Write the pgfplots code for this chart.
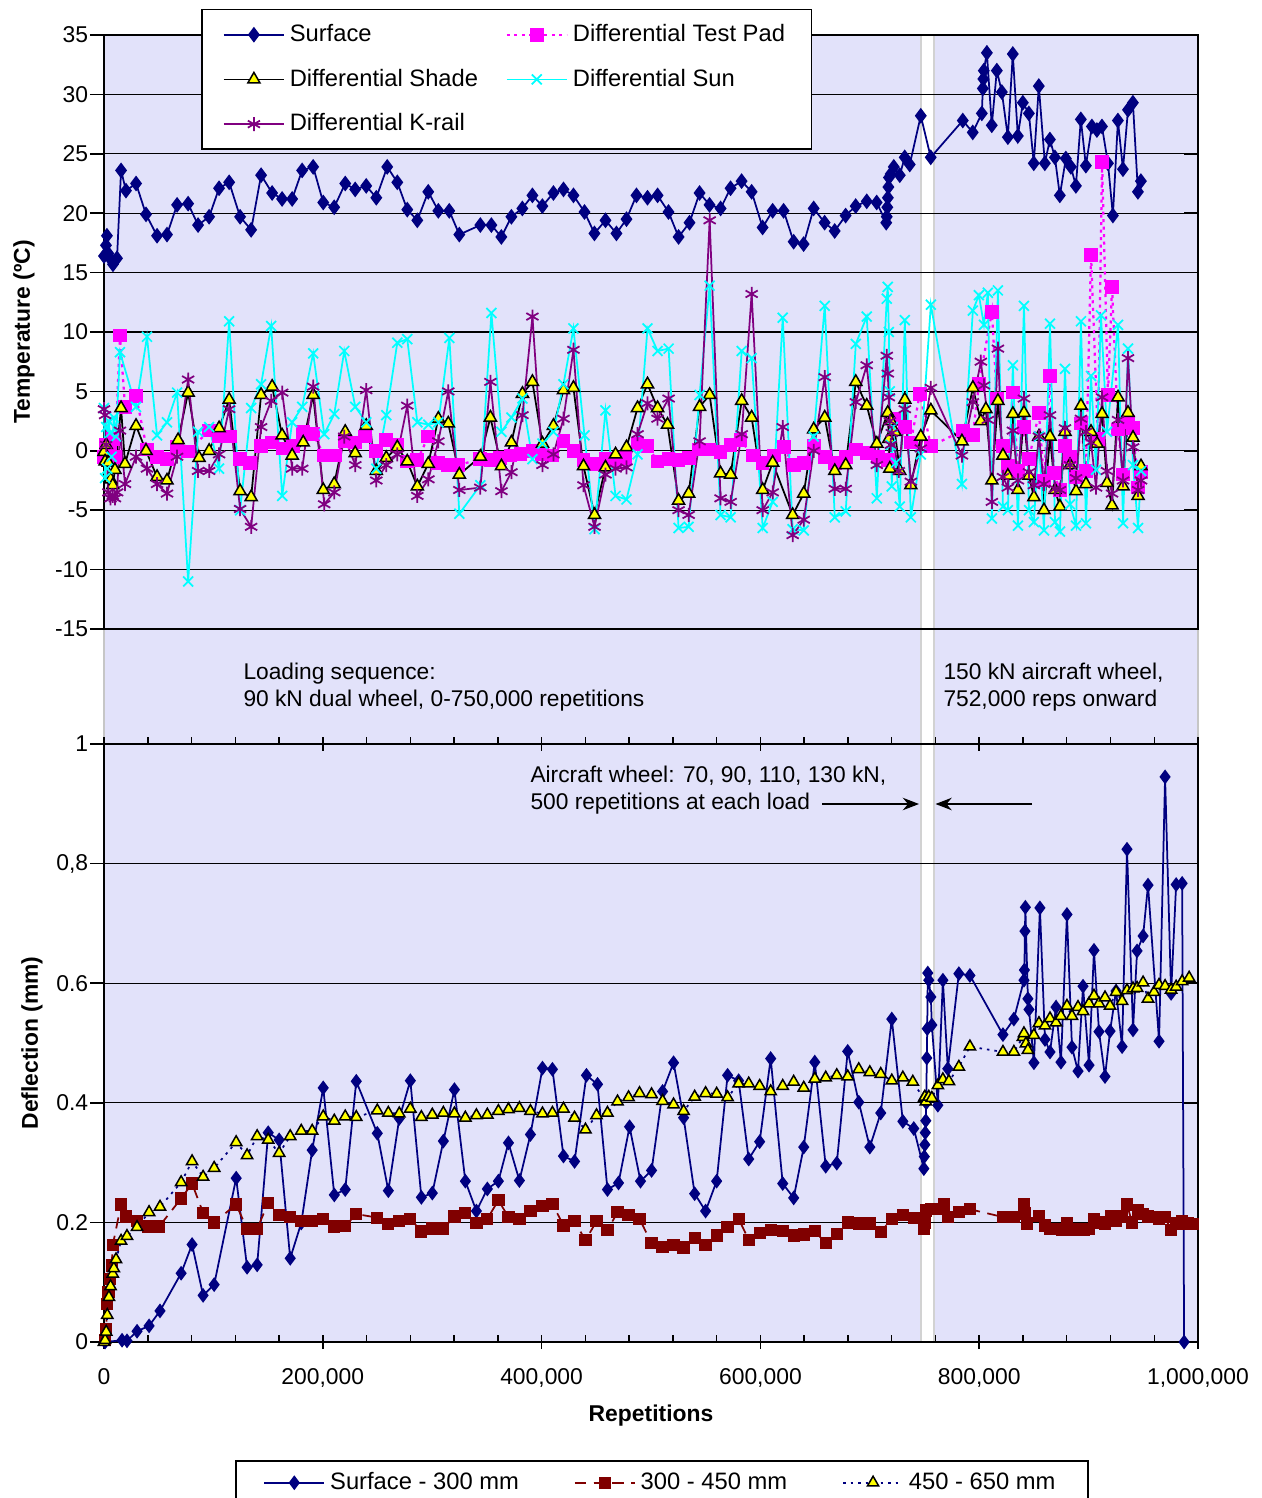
\documentclass[border=0pt]{standalone}
\usepackage{fontspec}
\setmainfont{Liberation Sans}
\usepackage{pgfplots}
\pgfplotsset{compat=1.18}
\usetikzlibrary{arrows.meta}

\definecolor{navyc}{RGB}{0,0,128}
\definecolor{magc}{RGB}{255,0,255}
\definecolor{cyanc}{RGB}{0,255,255}
\definecolor{purpc}{RGB}{128,0,128}
\definecolor{yelc}{RGB}{255,255,0}
\definecolor{redc}{RGB}{128,0,0}
\definecolor{lavc}{RGB}{226,226,250}

\newcommand{\fs}{\fontsize{9.5}{11.4}\selectfont}
\newcommand{\ft}{\fontsize{9.15}{11}\selectfont}

\pgfplotsset{
  myaxis/.style={
    scale only axis, width=437.6pt, anchor=north west,
    xmin=0, xmax=1000, clip=false,
    axis line style={line width=0.8pt},
    ymajorgrids, grid style={black, line width=0.5pt},
    tick style={black, line width=0.6pt},
    tick align=center,
    major tick length=5.6pt, minor tick length=2.8pt,
    every major y tick/.append style={xshift=-2.8pt},
    every minor x tick/.append style={yshift=1.4pt},
    tick label style={font=\ft},
    label style={font=\ft\bfseries},
    yticklabel style={anchor=east},
    legend cell align=left,
    legend style={font=\fs, draw=black, line width=0.6pt, fill=white},
    legend image code/.code={
      \draw[##1] (0pt,0pt) -- (24pt,0pt);
      \draw[##1, mark repeat=2, mark phase=2] plot coordinates {(0pt,0pt) (12pt,0pt) (24pt,0pt)};
    },
  },
}

\begin{document}
\begin{tikzpicture}
% shaded plot area behind both panels
\fill[lavc, draw=gray!45, line width=0.6pt] (41.6pt,-14pt) rectangle (479.2pt,-536.8pt);
\fill[white] (368.4pt,-14pt) rectangle (373.6pt,-536.8pt);
\draw[gray!35, line width=0.6pt] (368.4pt,-14pt) -- (368.4pt,-536.8pt) (373.6pt,-14pt) -- (373.6pt,-536.8pt);

\begin{axis}[myaxis, at={(41.6pt,-14pt)}, height=237.6pt,
  ymin=-15, ymax=35, ytick={-15,-10,-5,0,5,10,15,20,25,30,35},
  yticklabels={-15,-10,-5,0,5,10,15,20,25,30,35},
  xtick=\empty,
  ylabel={Temperature (ºC)},
  ylabel style={at={(axis description cs:-0.0731,0.5)}, anchor=center},
  legend columns=2,
  legend style={at={(0.0887,1.0438)}, anchor=north west, inner xsep=8.5pt, inner ysep=3.8pt, row sep=5.5pt,
    /tikz/every even column/.append style={column sep=9pt}},
]
\addplot[navyc, line width=0.7pt, mark=diamond*, mark size=2.6pt, mark options={fill=navyc}] coordinates {
(0,16.4)(1.8,17.3)(2.7,18.1)(4,16.6)(5.5,16.2)(8.2,15.7)(11.9,16.2)(15.6,23.6)(20.1,21.9)(29.3,22.5)(38.4,19.9)(48.5,18.1)(57.6,18.2)(66.8,20.7)(76.9,20.8)(86,19.0)(96.1,19.7)(105.2,22.1)(114.4,22.6)(124.4,19.7)(134.5,18.6)(143.6,23.2)(153.7,21.7)(162.8,21.2)(172,21.2)(181.1,23.6)(191.2,23.9)(200.4,20.9)(210.4,20.5)(220.5,22.5)(229.6,22.0)(239.7,22.3)(248.9,21.3)(258.9,23.9)(268.1,22.6)(277.2,20.3)(286.4,19.4)(296.4,21.8)(305.6,20.2)(315.6,20.2)(324.8,18.2)(344,19.0)(354.1,19.0)(363.2,18.0)(372.4,19.7)(382.4,20.4)(391.6,21.5)(400.7,20.6)(410.8,21.7)(420,22.0)(429.1,21.5)(439.2,20.1)(448.3,18.3)(458.4,19.4)(468.4,18.3)(477.6,19.5)(486.7,21.5)(496.8,21.3)(506,21.5)(516,20.1)(525.2,18.0)(535.2,19.2)(544.4,21.7)(553.5,20.7)(563.6,20.4)(572.7,22.1)(582.8,22.7)(592,21.8)(602,18.8)(611.2,20.2)(621.2,20.2)(630.4,17.6)(639.5,17.4)(648.7,20.4)(658.7,19.2)(667.9,18.5)(677.9,19.8)(687.1,20.6)(697.2,21.0)(706.3,20.9)(715,19.2)(715.5,19.7)(716,20.5)(716.5,21.3)(717,22.2)(717.5,23.0)(719.1,23.3)(721.9,23.9)(727.4,23.2)(731.9,24.7)(736.5,24.1)(746.6,28.2)(755.7,24.7)(785,27.8)(794.1,26.8)(802.4,28.4)(803.3,30.5)(803.8,31.3)(804.2,32.0)(807,33.5)(811.5,27.4)(816.1,32.0)(820.7,30.2)(826.2,26.4)(830.7,33.4)(835.3,26.5)(839.9,29.3)(845.4,28.4)(849.9,24.2)(854.5,30.7)(860,24.2)(864.6,26.2)(869.2,24.7)(873.7,21.5)(879.2,24.6)(883.8,23.9)(888.4,22.3)(892.9,27.9)(897.5,24.0)(903,27.3)(907.6,27.0)(912.2,27.3)(917.7,24.2)(922.2,19.8)(926.8,27.8)(931.4,23.7)(936,28.7)(940.5,29.3)(945.1,21.8)(947.8,22.7)
};
\addlegendentry{Surface}
\addplot[magc, line width=0.9pt, dash pattern=on 1.2pt off 1.8pt, mark=square*, mark size=2.3pt, mark options={solid, fill=magc}] coordinates {
(0,-0.5)(2,0.5)(4,-0.8)(6,0.3)(8,1.0)(10,-0.5)(14.6,9.7)(19.2,3.7)(29.3,4.6)(39.3,0.1)(48.5,-0.5)(57.6,-0.7)(66.8,0.3)(76.9,-0.05)(96.1,1.7)(105.2,1.2)(115.3,1.2)(124.4,-0.7)(133.6,-1.0)(143.6,0.4)(153.7,0.7)(163.8,0.2)(172.9,0.4)(182.1,1.6)(191.2,1.4)(201.3,-0.4)(211.3,-0.4)(220.5,0.8)(229.6,0.7)(238.8,1.2)(248.9,0.0)(258,0.9)(268.1,0.5)(277.2,-0.9)(286.4,-0.8)(296.4,1.2)(305.6,-1.0)(314.7,-1.2)(323.9,-1.2)(344,-0.7)(353.2,-0.8)(362.3,-0.6)(371.5,-0.4)(380.6,-0.3)(391.6,0.0)(400.7,-0.3)(409.9,-0.4)(420,0.8)(429.1,0.0)(438.3,-0.8)(449.3,-1.1)(458.4,-0.7)(467.6,-0.8)(476.7,-0.6)(487.7,0.6)(496.8,0.4)(506,-0.9)(516,-0.7)(525.2,-0.8)(534.4,-0.6)(543.5,0.1)(552.7,0.1)(563.6,-0.1)(572.7,0.5)(581.9,0.9)(592.9,-0.4)(602,-1.0)(612.1,-0.4)(621.3,0.3)(630.4,-1.2)(639.6,-1.0)(648.7,0.4)(658.8,-0.5)(668,-1.0)(678,-0.5)(687.2,0.1)(697.2,-0.2)(707.3,-0.5)(716.4,-0.8)(721.9,2.7)(732,2.0)(737.5,0.7)(745.7,4.8)(755.8,0.4)(785.1,1.7)(794.2,1.3)(799.7,5.6)(811.6,11.7)(816.2,4.4)(821.7,0.4)(826.2,-1.3)(830.8,4.9)(835.4,-1.7)(840.9,2.0)(845.5,-0.7)(854.6,3.2)(859.2,-2.5)(864.7,6.3)(868.3,-1.9)(873.8,-3.3)(878.4,0.4)(883,-0.5)(888.5,-2.2)(893,2.3)(897.6,-1.7)(902.2,16.5)(908.6,1.0)(912.3,24.3)(917.7,4.7)(921.4,13.8)(926.9,1.8)(931.5,-2.0)(936,2.4)(940.6,1.9)(945.2,-3.1)(947.9,-1.8)
};
\addlegendentry{Differential Test Pad}
\addplot[black, line width=0.7pt, mark=triangle*, mark size=2.8pt, mark options={fill=yelc, draw=black, line width=0.6pt}] coordinates {
(0,-0.1)(1,-0.9)(2,0.5)(4,-1.0)(6,-2.4)(8,-2.9)(10,-1.6)(15.6,3.6)(19.2,-1.1)(29.3,2.1)(38.4,0.0)(48.5,-2.2)(57.6,-2.5)(67.7,0.9)(76.9,4.9)(86.9,-0.6)(96.1,0.0)(105.2,1.9)(114.4,4.3)(124.4,-3.4)(134.5,-3.9)(143.6,4.7)(153.7,5.4)(162.8,1.3)(172,-0.4)(182.1,0.7)(191.2,4.7)(200.4,-3.3)(210.4,-2.8)(220.5,1.6)(229.6,-0.2)(239.7,2.1)(248.9,-1.7)(258,-0.6)(268.1,0.3)(277.2,-0.9)(286.4,-3.0)(296.4,-1.1)(305.6,2.7)(314.7,2.3)(324.8,-2.0)(344,-0.5)(353.2,2.8)(363.3,-1.3)(372.4,0.7)(382.5,4.8)(391.6,5.8)(400.8,0.6)(410.8,2.1)(420,5.1)(429.1,5.3)(438.3,-1.3)(448.4,-5.4)(458.4,-1.4)(467.6,-0.3)(477.6,0.3)(487.7,3.6)(496.8,5.6)(506,3.6)(515.1,2.2)(525.2,-4.2)(534.4,-3.6)(544.4,3.7)(553.6,4.7)(563.6,-1.9)(572.8,-2.0)(582.9,4.2)(592,2.8)(602.1,-3.3)(611.2,-1.0)(629.5,-5.4)(639.6,-3.6)(648.7,1.8)(658.8,2.8)(668,-1.7)(678,-1.2)(687.2,5.8)(697.2,3.8)(706.4,0.6)(716.4,3.2)(717.4,1.0)(718.3,-1.5)(719.2,2.5)(722.9,1.6)(727.4,-1.7)(732,4.3)(737.5,-2.9)(746.6,1.2)(755.8,3.4)(784.2,0.8)(794.2,5.3)(801.5,2.5)(806.1,3.5)(811.6,-2.5)(817.1,4.2)(821.7,-0.4)(826.2,-2.1)(830.8,3.1)(835.4,-3.3)(840.9,3.2)(845.5,-2.1)(850,-3.9)(854.6,1.2)(859.2,-5.0)(864.7,1.2)(869.3,-3.3)(873.8,-4.7)(878.4,1.6)(883,-1.2)(888.5,-3.4)(893,3.8)(897.6,-2.8)(902.2,1.6)(907.7,0.6)(912.3,3.1)(916.8,-2.7)(921.4,-4.6)(926.9,4.5)(931.5,-3.0)(936,3.2)(940.6,1.1)(945.2,-3.8)(947.9,-1.3)
};
\addlegendentry{Differential Shade}
\addplot[cyanc, line width=0.7pt, mark=x, mark size=2.8pt] coordinates {
(0,3.6)(1,-2.3)(2,2.0)(3,-1.5)(4,2.5)(5.5,1.5)(7,-0.5)(9,2.8)(11,1.2)(14.6,8.3)(29.3,3.7)(39.3,9.6)(48.5,1.3)(57.6,2.4)(66.8,4.9)(76.9,-11.0)(86,1.6)(96.1,2.0)(105.2,-1.5)(114.4,10.9)(124.4,-5.0)(134.5,3.6)(143.6,5.6)(152.8,10.5)(162.9,-3.8)(172,2.4)(181.2,3.7)(191.2,8.2)(201.3,1.4)(210.5,3.1)(219.6,8.4)(229.7,3.7)(239.7,2.4)(248.9,-1.5)(258,3.0)(268.1,9.1)(277.2,9.4)(286.4,2.4)(296.5,2.2)(305.6,2.4)(315.7,9.5)(324.8,-5.3)(344,-2.9)(354.1,11.6)(363.3,1.6)(372.4,2.8)(382.5,4.4)(391.6,-0.7)(400.8,0.6)(410.8,1.6)(420,5.6)(429.1,10.3)(439.2,1.3)(448.4,-6.6)(458.4,3.4)(467.6,-3.8)(477.6,-4.1)(487.7,-0.3)(496.8,10.3)(506,8.4)(516.1,8.6)(525.2,-6.5)(534.4,-6.4)(544.4,4.7)(553.6,13.9)(563.6,-5.4)(572.8,-5.6)(582.9,8.4)(592,7.8)(602.1,-6.5)(611.2,-4.3)(620.4,11.2)(629.5,-6.6)(639.6,-6.7)(648.7,1.2)(658.8,12.2)(668,-5.6)(678,-5.1)(687.2,9.0)(697.2,11.3)(706.4,-4.0)(715.5,12.8)(716.4,13.8)(717.4,10.0)(718.3,5.0)(719.2,0.5)(720.1,-3.0)(721,2.0)(723.8,-1.0)(727.4,-4.7)(732,11.0)(737.5,-5.6)(746.6,-0.3)(755.8,12.3)(784.2,-2.8)(794.2,11.8)(799.7,13.1)(804.3,10.6)(807.9,13.3)(811.6,-5.7)(817.1,13.5)(821.7,-4.7)(826.2,-5.0)(830.8,7.2)(835.4,-6.3)(840.9,12.2)(845.5,-5.0)(850,-6.0)(854.6,1.2)(859.2,-6.7)(864.7,10.7)(869.3,-6.0)(873.8,-6.8)(878.4,6.9)(883,-4.5)(888.5,-6.3)(893,10.9)(897.6,-6.1)(902.2,6.3)(906.8,-1.6)(911.3,11.4)(916.8,1.6)(926.9,10.6)(931.5,-6.1)(936,8.6)(940.6,-1.2)(945.2,-6.5)(947.9,-1.7)
};
\addlegendentry{Differential Sun}
\addplot[purpc, line width=0.7pt, mark=asterisk, mark size=2.8pt] coordinates {
(0,3.5)(1,3.0)(2,0.5)(4,-3.5)(6,-4.0)(8,-3.8)(10,-4.0)(12,-3.5)(14.6,1.7)(19.2,-2.8)(29.3,-0.5)(39.3,-1.5)(48.5,-2.8)(57.6,-3.6)(66.8,-0.5)(76.9,6.0)(86,-1.7)(96.1,-1.7)(105.2,-0.3)(114.4,3.5)(124.4,-4.9)(134.5,-6.4)(143.6,2.0)(152.8,4.2)(162.9,4.9)(172,-1.5)(181.2,-1.5)(191.2,5.4)(201.3,-4.5)(210.5,-3.5)(219.6,1.2)(229.7,-1.2)(239.7,5.1)(248.9,-2.5)(258,-1.2)(268.1,-0.3)(277.2,3.8)(286.4,-3.8)(296.5,-2.4)(305.6,0.8)(314.7,5.0)(324.8,-3.3)(344,-3.1)(353.2,5.8)(363.3,-3.4)(372.4,-1.8)(382.5,3.0)(391.6,11.3)(400.8,-1.2)(410.8,-0.3)(420,2.7)(429.1,8.5)(438.3,-2.9)(448.4,-6.4)(458.4,-2.0)(467.6,-1.5)(477.6,-1.4)(487.7,1.4)(496.8,4.0)(506,2.7)(516.1,4.4)(525.2,-5.0)(534.4,-5.4)(544.4,0.8)(553.6,19.4)(563.6,-4.0)(572.8,-4.3)(582.9,1.4)(592,13.2)(602.1,-5.0)(611.2,-3.5)(620.4,2.0)(629.5,-7.1)(639.6,-5.8)(648.7,0.0)(658.8,6.2)(668,-3.2)(678,-3.2)(687.2,4.1)(697.2,7.2)(706.4,-1.2)(715.5,8.0)(716.4,6.5)(717.4,4.5)(718.3,2.5)(719.2,0.5)(720.1,1.5)(726.5,-1.7)(732,3.5)(737.5,-2.6)(746.6,0.2)(755.8,5.3)(784.2,-0.4)(794.2,4.1)(801.5,7.5)(804.3,5.5)(807.9,2.6)(811.6,-4.3)(817.1,8.6)(821.7,-2.2)(826.2,-3.1)(830.8,1.7)(835.4,-2.5)(840.9,4.4)(845.5,-1.8)(850,-2.9)(854.6,1.2)(859.2,-2.8)(864.7,3.0)(869.3,-3.2)(873.8,-3.3)(878.4,1.9)(883,-1.2)(888.5,-2.3)(893,2.7)(897.6,1.6)(902.2,0.7)(906.8,-3.1)(912.3,4.5)(916.8,-1.7)(921.4,-3.6)(926.9,2.6)(931.5,-2.5)(936,7.8)(940.6,0.3)(945.2,-3.3)(947.9,-2.5)
};
\addlegendentry{Differential K-rail}
\end{axis}

\begin{axis}[myaxis, at={(41.6pt,-297.6pt)}, height=239.2pt,
  ymin=0, ymax=1, ytick={0,0.2,0.4,0.6,0.8,1},
  yticklabels={0,0.2,0.4,0.6,{0,8},1},
  xtick={0,200,400,600,800,1000},
  xticklabels={0,{200,000},{400,000},{600,000},{800,000},{1,000,000}},
  minor x tick num=4,
  xticklabel style={anchor=north, yshift=-4.4pt},
  xlabel={Repetitions},
  xlabel style={at={(axis description cs:0.5,-0.1237)}, anchor=center},
  ylabel={Deflection (mm)},
  ylabel style={at={(axis description cs:-0.0658,0.5)}, anchor=center},
  legend columns=3,
  legend style={at={(0.1199,-0.1973)}, anchor=north west, inner xsep=11pt, inner ysep=2.6pt,
    /tikz/every even column/.append style={column sep=20pt}},
]
\addplot[navyc, line width=0.7pt, mark=diamond*, mark size=2.4pt, mark options={fill=navyc}] coordinates {
(1,0)(16.5,0.003)(21,0.002)(30.2,0.018)(41.2,0.027)(51.2,0.052)(70.5,0.115)(80.5,0.163)(90.6,0.078)(100.7,0.096)(120.8,0.274)(130.8,0.125)(140,0.129)(150.1,0.35)(160.1,0.338)(170.2,0.14)(180.3,0.199)(190.3,0.321)(200.4,0.425)(210.5,0.246)(220.5,0.255)(230.6,0.436)(249.8,0.349)(259.9,0.253)(269.9,0.374)(280,0.437)(290.1,0.242)(300.1,0.249)(310.2,0.336)(320.3,0.422)(330.3,0.269)(340.4,0.219)(350.4,0.256)(360.5,0.269)(369.7,0.333)(379.7,0.27)(389.8,0.347)(400.8,0.458)(409.9,0.456)(420,0.311)(430.1,0.302)(441,0.446)(451.1,0.431)(460.2,0.255)(470.3,0.266)(480.4,0.36)(490.4,0.269)(500.5,0.287)(510.6,0.419)(520.6,0.467)(529.8,0.375)(539.9,0.248)(549.9,0.219)(560,0.269)(570,0.446)(580.1,0.437)(589.3,0.306)(599.3,0.335)(609.4,0.474)(620.4,0.265)(630.4,0.241)(639.6,0.326)(649.7,0.468)(659.7,0.294)(669.8,0.299)(679.8,0.486)(689.9,0.401)(700,0.326)(710,0.383)(720.1,0.54)(730.2,0.369)(740.2,0.357)(749.4,0.29)(749.8,0.31)(750.3,0.33)(750.7,0.35)(751.2,0.37)(751.6,0.4)(752.1,0.475)(752.5,0.524)(753,0.617)(753.9,0.605)(755.8,0.577)(756.7,0.53)(762.2,0.396)(766.8,0.605)(771.3,0.457)(781.4,0.616)(791.5,0.613)(821.7,0.514)(831.7,0.54)(840.9,0.605)(841.3,0.622)(841.8,0.687)(842.2,0.727)(844.5,0.574)(845.5,0.556)(850,0.467)(855.5,0.726)(860.1,0.506)(864.7,0.485)(870.2,0.56)(874.7,0.468)(880.2,0.715)(884.8,0.493)(890.3,0.453)(894.9,0.595)(900.4,0.463)(904.9,0.655)(909.5,0.519)(915,0.444)(919.6,0.52)(925.1,0.587)(930.6,0.494)(935.1,0.824)(940.6,0.522)(944.3,0.654)(949.8,0.679)(954.3,0.764)(964.4,0.503)(969.9,0.945)(975.4,0.583)(980,0.765)(985.5,0.767)(987.3,0)
};
\addlegendentry{Surface - 300 mm}
\addplot[redc, line width=0.7pt, dash pattern=on 4.5pt off 3pt, mark=square*, mark size=2.1pt, mark options={solid, fill=redc}] coordinates {
(1,0.003)(2,0.022)(3,0.064)(4,0.084)(5.5,0.106)(7,0.128)(8,0.162)(15.6,0.23)(20.1,0.21)(30.2,0.203)(40.3,0.193)(50.3,0.193)(70.5,0.24)(80.5,0.265)(90.6,0.216)(100.7,0.2)(120.8,0.23)(130.8,0.189)(140,0.189)(150.1,0.233)(160.1,0.213)(170.2,0.209)(180.3,0.203)(190.3,0.203)(200.4,0.206)(210.5,0.193)(220.5,0.194)(230.6,0.214)(249.8,0.208)(259.9,0.197)(269.9,0.202)(280,0.206)(290.1,0.185)(300.1,0.19)(310.2,0.19)(320.3,0.21)(330.3,0.216)(340.4,0.199)(350.4,0.206)(360.5,0.237)(369.7,0.209)(379.7,0.206)(389.8,0.219)(400.8,0.228)(409.9,0.231)(420,0.195)(430.1,0.202)(440.1,0.17)(450.2,0.202)(460.2,0.187)(469.4,0.217)(479.5,0.212)(489.5,0.206)(500.5,0.165)(510.6,0.159)(520.6,0.162)(529.8,0.158)(539.9,0.174)(549.9,0.162)(560,0.178)(570,0.192)(580.1,0.206)(589.3,0.171)(599.3,0.182)(609.4,0.187)(620.4,0.186)(630.4,0.178)(639.6,0.18)(649.7,0.186)(659.7,0.165)(669.8,0.181)(679.8,0.2)(689.9,0.198)(700,0.198)(710,0.184)(720.1,0.206)(730.2,0.213)(740.2,0.208)(749.4,0.19)(750.3,0.2)(751.2,0.22)(755.8,0.222)(762.2,0.222)(767.7,0.23)(771.3,0.209)(781.4,0.217)(791.5,0.222)(821.7,0.209)(831.7,0.209)(840.9,0.23)(841.8,0.215)(843.6,0.198)(854.6,0.211)(860.1,0.195)(864.7,0.189)(870.2,0.189)(875.7,0.188)(880.2,0.199)(885.7,0.187)(890.3,0.188)(895.8,0.187)(900.4,0.189)(904.9,0.206)(910.4,0.2)(915,0.197)(920.5,0.21)(925.1,0.202)(930.6,0.21)(935.1,0.23)(939.7,0.2)(945.2,0.22)(949.8,0.214)(954.3,0.21)(959.8,0.209)(964.4,0.206)(969.9,0.209)(975.4,0.187)(980,0.198)(985.5,0.203)(991,0.198)(995.5,0.197)
};
\addlegendentry{300 - 450 mm}
\addplot[navyc, line width=0.7pt, dash pattern=on 1pt off 2pt, mark=triangle*, mark size=2.6pt, mark options={solid, fill=yelc, draw=black, line width=0.6pt}] coordinates {
(0,0)(1,0.003)(2,0.017)(3,0.045)(4.5,0.075)(6,0.093)(8,0.114)(9,0.123)(11,0.138)(15.6,0.169)(21,0.177)(30.2,0.192)(41.2,0.217)(51.2,0.226)(70.5,0.267)(80.5,0.302)(90.6,0.276)(100.7,0.291)(120.8,0.334)(130.8,0.312)(140,0.344)(150.1,0.338)(160.1,0.316)(170.2,0.344)(180.3,0.353)(190.3,0.353)(200.4,0.377)(210.5,0.37)(220.5,0.377)(230.6,0.376)(249.8,0.387)(259.9,0.383)(269.9,0.382)(280,0.39)(290.1,0.376)(300.1,0.38)(310.2,0.383)(320.3,0.382)(330.3,0.375)(340.4,0.379)(350.4,0.38)(360.5,0.386)(369.7,0.389)(379.7,0.391)(389.8,0.386)(400.8,0.382)(409.9,0.383)(420,0.39)(430.1,0.375)(440.1,0.355)(450.2,0.379)(460.2,0.383)(469.4,0.402)(479.5,0.409)(489.5,0.416)(500.5,0.414)(510.6,0.403)(520.6,0.397)(529.8,0.386)(539.9,0.41)(549.9,0.416)(560,0.415)(570,0.409)(580.1,0.432)(589.3,0.432)(599.3,0.428)(609.4,0.419)(620.4,0.428)(630.4,0.435)(639.6,0.425)(649.7,0.44)(659.7,0.442)(669.8,0.446)(679.8,0.444)(689.9,0.456)(700,0.451)(710,0.448)(720.1,0.437)(730.2,0.442)(739.3,0.435)(749.4,0.407)(750.3,0.41)(751.2,0.402)(753.9,0.41)(756.7,0.408)(762.2,0.429)(766.8,0.439)(772.3,0.436)(781.4,0.46)(791.5,0.494)(821.7,0.485)(831.7,0.485)(840,0.51)(840.9,0.516)(842.7,0.499)(844.5,0.488)(850,0.513)(854.6,0.533)(860.1,0.529)(864.7,0.541)(870.2,0.534)(874.7,0.545)(880.2,0.562)(884.8,0.545)(890.3,0.56)(894.9,0.553)(900.4,0.566)(904.9,0.579)(909.5,0.566)(915,0.576)(919.6,0.562)(925.1,0.585)(930.6,0.57)(935.1,0.588)(940.6,0.591)(944.3,0.592)(949.8,0.601)(954.3,0.574)(959.8,0.585)(964.4,0.597)(969.9,0.595)(975.4,0.589)(980,0.594)(985.5,0.603)(991.9,0.609)
};
\addlegendentry{450 - 650 mm}
\end{axis}

% annotations
\node[anchor=north west, inner sep=0, align=left, font=\fontsize{9.1}{10.8}\selectfont] at (97.2pt,-265.2pt) {Loading sequence:\\90 kN dual wheel, 0-750,000 repetitions};
\node[anchor=north west, inner sep=0, align=left, font=\fontsize{9.1}{10.8}\selectfont] at (377.2pt,-265.2pt) {150 kN aircraft wheel,\\752,000 reps onward};
\node[anchor=north west, inner sep=0, align=left, font=\fontsize{9.1}{10.8}\selectfont] at (212pt,-306.4pt) {Aircraft wheel: 70, 90, 110, 130 kN,\\500 repetitions at each load};
\draw[-{Stealth[length=6.5pt,width=5pt]}, line width=0.5pt] (328.8pt,-321.6pt) -- (367.6pt,-321.6pt);
\draw[-{Stealth[length=6.5pt,width=5pt]}, line width=0.5pt] (412.8pt,-321.6pt) -- (374.2pt,-321.6pt);

\pgfresetboundingbox
\useasboundingbox (0pt,0pt) rectangle (504.4pt,-599.2pt);
\end{tikzpicture}
\end{document}
